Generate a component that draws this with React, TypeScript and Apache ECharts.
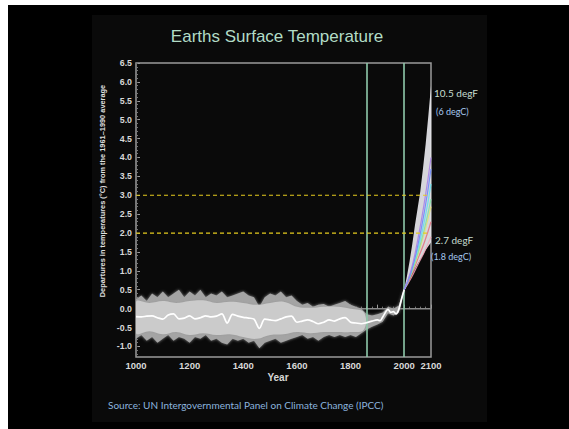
import { useEffect, useRef } from "react";
import * as echarts from "echarts";

// ---------- data ----------
const bandYears = [
  1000, 1020, 1040, 1060, 1080, 1100, 1120, 1140, 1160, 1180,
  1200, 1220, 1240, 1260, 1280, 1300, 1320, 1340, 1360, 1380,
  1400, 1420, 1440, 1460, 1480, 1500, 1520, 1540, 1560, 1580,
  1600, 1620, 1640, 1660, 1680, 1700, 1720, 1740, 1760, 1780,
  1800, 1820, 1840, 1860, 1880, 1900, 1920, 1940, 1960, 1980, 2000,
];
const bandTop = [
  0.25, 0.35, 0.2, 0.4, 0.3, 0.45, 0.3, 0.4, 0.5, 0.3,
  0.45, 0.35, 0.5, 0.3, 0.4, 0.35, 0.45, 0.3, 0.35, 0.4,
  0.45, 0.35, 0.3, 0.05, 0.3, 0.4, 0.35, 0.45, 0.3, 0.35,
  0.2, 0.1, 0.15, 0.05, 0.1, 0.12, 0.05, 0.1, 0.15, 0.2,
  0.1, 0.05, 0.0, -0.15, -0.18, -0.15, -0.1, 0.05, 0.0, 0.08, 0.55,
];
const bandBottom = [
  -0.8, -0.7, -0.85, -0.75, -0.9, -0.8, -0.7, -0.85, -0.75, -0.8,
  -0.9, -0.75, -0.8, -0.7, -0.85, -0.8, -0.9, -0.95, -0.8, -0.85,
  -0.8, -0.9, -0.85, -1.05, -0.9, -0.85, -0.8, -0.9, -0.85, -0.8,
  -0.75, -0.7, -0.8, -0.75, -0.85, -0.75, -0.7, -0.75, -0.7, -0.75,
  -0.7, -0.75, -0.65, -0.55, -0.48, -0.42, -0.35, -0.12, -0.18, -0.1, 0.45,
];

const coreYears = [1000, 1050, 1100, 1150, 1200, 1250, 1300, 1350, 1400, 1450, 1500, 1550, 1600, 1650, 1700, 1750, 1800, 1850];
const coreTop = [0.18, 0.15, 0.2, 0.15, 0.2, 0.22, 0.15, 0.18, 0.15, 0.1, 0.15, 0.18, 0.05, 0.02, 0.05, 0.05, 0.0, -0.1];
const coreBottom = [-0.65, -0.6, -0.68, -0.62, -0.7, -0.65, -0.7, -0.68, -0.75, -0.8, -0.7, -0.68, -0.62, -0.65, -0.62, -0.62, -0.62, -0.55];

const meanYears = [
  1000, 1020, 1040, 1060, 1080, 1100, 1120, 1140, 1160, 1180,
  1200, 1220, 1240, 1260, 1280, 1300, 1320, 1340, 1360, 1380,
  1400, 1420, 1440, 1460, 1480, 1500, 1520, 1540, 1560, 1580,
  1600, 1620, 1640, 1660, 1680, 1700, 1720, 1740, 1760, 1780,
  1800, 1820, 1840, 1860, 1880, 1900, 1910, 1920, 1940, 1950, 1960, 1970, 1980, 1990, 2000,
];
const meanValues = [
  -0.21, -0.22, -0.2, -0.19, -0.24, -0.28, -0.17, -0.14, -0.27, -0.25,
  -0.19, -0.27, -0.24, -0.19, -0.22, -0.2, -0.14, -0.38, -0.15, -0.2,
  -0.23, -0.25, -0.28, -0.52, -0.28, -0.3, -0.32, -0.27, -0.22, -0.2,
  -0.36, -0.33, -0.3, -0.34, -0.4, -0.36, -0.3, -0.33, -0.27, -0.24,
  -0.36, -0.38, -0.4, -0.37, -0.33, -0.3, -0.32, -0.22, -0.02, -0.1, -0.08, -0.14, -0.02, 0.25, 0.5,
];

const projYears = [2000, 2010, 2020, 2030, 2040, 2050, 2060, 2070, 2080, 2090, 2100];
const projUpper = [0.5, 0.85, 1.25, 1.7, 2.2, 2.65, 3.1, 3.7, 4.35, 5.1, 5.9];
const projLower = [0.5, 0.65, 0.8, 0.93, 1.05, 1.18, 1.3, 1.42, 1.55, 1.65, 1.75];

const scenarioYears = [2000, 2025, 2050, 2075, 2100];
const scenarioPurple = [0.5, 1.0, 1.8, 2.8, 4.0];
const scenarioBlue = [0.5, 0.95, 1.65, 2.55, 3.7];
const scenarioCyan = [0.5, 0.95, 1.55, 2.3, 3.3];
const scenarioGreen = [0.5, 0.9, 1.45, 2.1, 2.9];
const scenarioYellow = [0.5, 0.9, 1.4, 2.0, 2.7];
const scenarioRed = [0.5, 0.85, 1.3, 1.75, 2.3];
const scenarioPink = [0.5, 0.8, 1.15, 1.5, 1.9];

const xLabelYears = [1000, 1200, 1400, 1600, 1800, 2000, 2100];
const yLabelValues = [-1, -0.5, 0, 0.5, 1, 1.5, 2, 2.5, 3, 3.5, 4, 4.5, 5, 5.5, 6, 6.5];
const verticalMarks = [1860, 2000];
const dashedLevels = [2, 3];

const TITLE = "Earths Surface Temperature";
const Y_NAME = "Departures in temperatures (°C) from the 1961–1990 average";
const X_NAME = "Year";
const SOURCE = "Source: UN Intergovernmental Panel on Climate Change (IPCC)";

const pairs = (xs: number[], ys: number[]) => xs.map((x, i) => [x, ys[i]]);

const bandSeries = (
  name: string,
  xs: number[],
  top: number[],
  bottom: number[],
  fill: any,
  z: number,
  smooth: number,
  blur: number
) => ({
  name,
  type: "custom",
  coordinateSystem: "cartesian2d",
  clip: true,
  z,
  silent: true,
  data: xs.map((x, i) => [x, top[i], bottom[i]]),
  encode: { x: 0, y: [1, 2] },
  renderItem: (params: any, api: any) => {
    if (params.dataIndex !== 0) return null;
    const pts: number[][] = [];
    for (let i = 0; i < xs.length; i++) pts.push(api.coord([xs[i], top[i]]));
    for (let i = xs.length - 1; i >= 0; i--) pts.push(api.coord([xs[i], bottom[i]]));
    return {
      type: "polygon",
      shape: { points: pts, smooth },
      style: { fill, shadowBlur: blur, shadowColor: blur ? "rgba(150,150,150,0.9)" : undefined },
    };
  },
});

export default function App() {
  const ref = useRef<HTMLDivElement>(null);
  useEffect(() => {
    if (!ref.current) return;
    const chart = echarts.init(ref.current, undefined, { renderer: "svg" });
    const minorY: number[] = [];
    for (let i = -12; i <= 65; i++) minorY.push(+(i / 10).toFixed(1));

    const scen = (name: string, vals: number[], color: string) => ({
      name,
      type: "line",
      data: pairs(scenarioYears, vals),
      smooth: true,
      symbol: "none",
      silent: true,
      lineStyle: { color, width: 1.2, opacity: 0.85 },
      z: 6,
    });

    const level = (v: number) => ({
      name: `level${v}`,
      type: "line",
      data: [[1000, v], [2095, v]],
      symbol: "none",
      silent: true,
      lineStyle: { color: "#e6cc1e", width: 1.2, type: [4, 3] },
      z: 8,
    });

    const sans = "'Liberation Sans', Arial, sans-serif";

    chart.setOption({
      animation: false,
      backgroundColor: "#000",
      grid: {
        left: 128,
        top: 58,
        width: 295,
        height: 294,
        show: true,
        borderColor: "#9a9a9a",
        borderWidth: 1.5,
        backgroundColor: "transparent",
      },
      xAxis: {
        type: "value",
        min: 1000,
        max: 2100,
        interval: 100,
        axisLine: { show: false },
        splitLine: { show: false },
        axisTick: { inside: true, length: 4, lineStyle: { color: "#9a9a9a" } },
        minorTick: { show: true, splitNumber: 5, length: 2, lineStyle: { color: "#777" } },
        axisLabel: {
          color: "#d8d8d8",
          fontFamily: sans,
          fontWeight: "bold",
          fontSize: 9.5,
          margin: 3,
          showMinLabel: true,
          showMaxLabel: true,
          formatter: (v: number) => (xLabelYears.includes(v) ? String(v) : ""),
        },
      },
      yAxis: [
        {
          type: "value",
          min: -1.28,
          max: 6.5,
          axisLine: { show: false },
          splitLine: { show: false },
          axisTick: { inside: true, length: 4, customValues: yLabelValues, lineStyle: { color: "#9a9a9a" } },
          axisLabel: {
            customValues: yLabelValues,
            color: "#d8d8d8",
            fontFamily: sans,
            fontWeight: "bold",
            fontSize: 8.8,
            margin: 4,
            formatter: (v: number) => v.toFixed(1),
          },
        },
        {
          type: "value",
          min: -1.28,
          max: 6.5,
          position: "left",
          axisLine: { show: false },
          splitLine: { show: false },
          axisLabel: { show: false },
          axisTick: { inside: true, length: 2, customValues: minorY, lineStyle: { color: "#777" } },
        },
      ],
      series: [
        {
          name: "zero",
          type: "line",
          data: [[1000, 0], [2100, 0]],
          symbol: "none",
          silent: true,
          lineStyle: { color: "#8a8a8a", width: 1.5 },
          z: 1,
        },
        bandSeries("band", bandYears, bandTop, bandBottom, "#a4a4a4", 2, 0, 3),
        bandSeries("core", coreYears, coreTop, coreBottom, "#cbcbcb", 3, 0.4, 2),
        bandSeries("projection", projYears, projUpper, projLower, "rgba(230,230,236,0.93)", 4, 0, 0),
        scen("pink", scenarioPink, "#f2a6b8"),
        scen("red", scenarioRed, "#e2707e"),
        scen("yellow", scenarioYellow, "#e6df70"),
        scen("green", scenarioGreen, "#7fe0a4"),
        scen("cyan", scenarioCyan, "#5fe0ee"),
        scen("blue", scenarioBlue, "#6a86ff"),
        scen("purple", scenarioPurple, "#a77ee6"),
        ...dashedLevels.map(level),
        {
          name: "mean",
          type: "line",
          data: pairs(meanYears, meanValues),
          symbol: "none",
          silent: true,
          smooth: 0.3,
          lineStyle: { color: "#ffffff", width: 1.7 },
          z: 7,
          markLine: {
            silent: true,
            symbol: "none",
            label: { show: false },
            data: verticalMarks.map((v) => ({ xAxis: v, lineStyle: { color: "#8fc9aa", width: 1.6, type: "solid" } })),
          },
        },
      ],
      graphic: [
        {
          type: "rect",
          silent: true,
          z: -10,
          shape: { x: 84, y: 10, width: 395, height: 407 },
          style: { fill: "#0a0a0a" },
        },
        {
          type: "text",
          x: 269,
          y: 31,
          style: {
            text: TITLE,
            fill: "#b2dcc6",
            font: `17px ${sans}`,
            textAlign: "center",
            textVerticalAlign: "middle",
          },
        },
        {
          type: "text",
          x: 94,
          y: 186,
          rotation: Math.PI / 2,
          style: {
            text: Y_NAME,
            fill: "#e0e0e0",
            font: `bold 7.4px ${sans}`,
            textAlign: "center",
            textVerticalAlign: "middle",
          },
        },
        {
          type: "text",
          x: 270,
          y: 372,
          style: {
            text: X_NAME,
            fill: "#d8d8d8",
            font: `bold 10px ${sans}`,
            textAlign: "center",
            textVerticalAlign: "middle",
          },
        },
        {
          type: "text",
          x: 100,
          y: 400,
          style: {
            text: SOURCE,
            fill: "#8ab4df",
            font: "10px Lato, 'Open Sans', sans-serif",
            textAlign: "left",
            textVerticalAlign: "middle",
          },
        },
        {
          type: "text",
          x: 426,
          y: 88,
          style: { text: "10.5 degF", fill: "#c6dccf", font: "10px Lato, sans-serif", textVerticalAlign: "middle" },
        },
        {
          type: "text",
          x: 428,
          y: 106,
          style: { text: "(6 degC)", fill: "#a6c8ee", font: "9px Lato, sans-serif", textVerticalAlign: "middle" },
        },
        {
          type: "text",
          x: 427,
          y: 235,
          style: { text: "2.7 degF", fill: "#c6dccf", font: "10px Lato, sans-serif", textVerticalAlign: "middle" },
        },
        {
          type: "text",
          x: 423,
          y: 251,
          style: { text: "(1.8 degC)", fill: "#a6c8ee", font: "9px Lato, sans-serif", textVerticalAlign: "middle" },
        },
      ],
    });
    return () => chart.dispose();
  }, []);
  return (
    <div
      ref={ref}
      style={{ position: "absolute", left: 8, top: 5, width: 561, height: 424, background: "#000" }}
    />
  );
}
